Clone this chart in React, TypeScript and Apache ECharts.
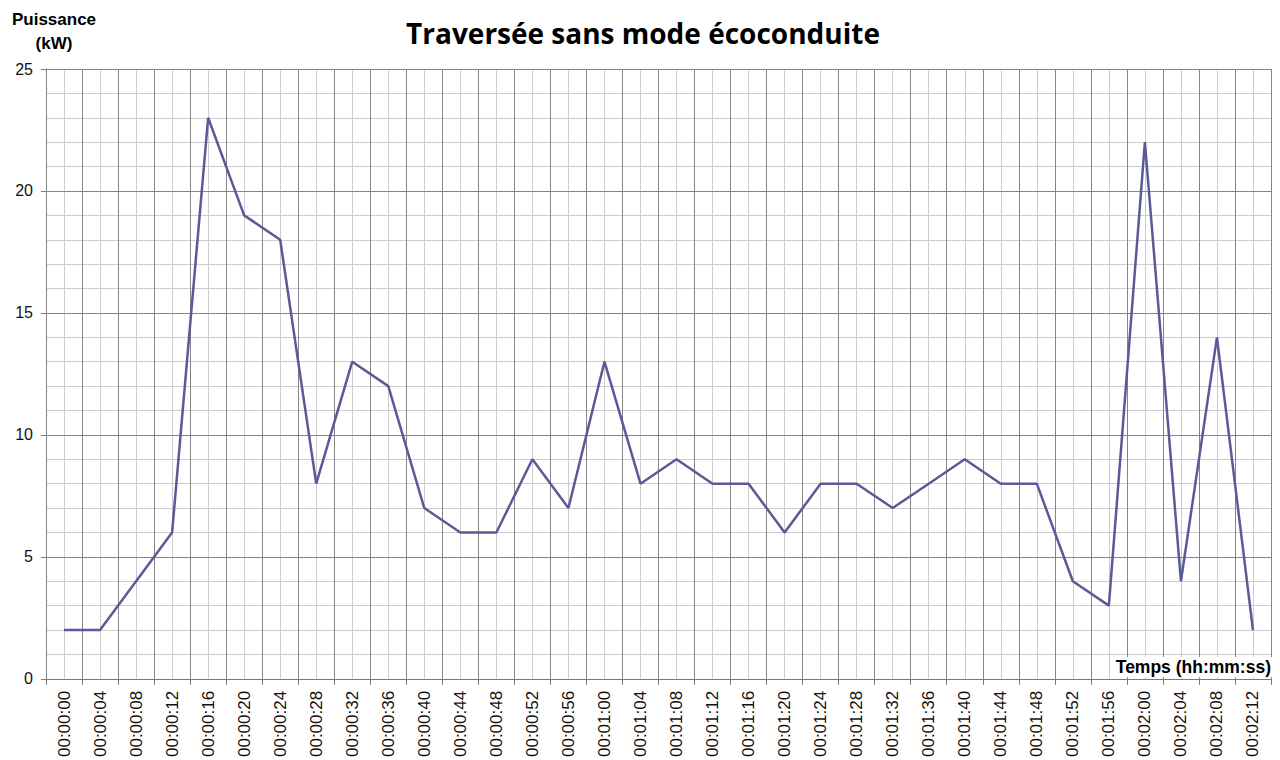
import React, { useEffect, useRef } from "react";
import * as echarts from "echarts";

const categories = [
  "00:00:00", "00:00:04", "00:00:08", "00:00:12", "00:00:16", "00:00:20",
  "00:00:24", "00:00:28", "00:00:32", "00:00:36", "00:00:40", "00:00:44",
  "00:00:48", "00:00:52", "00:00:56", "00:01:00", "00:01:04", "00:01:08",
  "00:01:12", "00:01:16", "00:01:20", "00:01:24", "00:01:28", "00:01:32",
  "00:01:36", "00:01:40", "00:01:44", "00:01:48", "00:01:52", "00:01:56",
  "00:02:00", "00:02:04", "00:02:08", "00:02:12",
];
const power = [
  2, 2, 4, 6, 23, 19, 18, 8, 13, 12, 7, 6, 6, 9, 7, 13, 8, 9, 8, 8, 6, 8, 8, 7,
  8, 9, 8, 8, 4, 3, 22, 4, 14, 2,
];
const yMin = 0;
const yMax = 25;
const yInterval = 5;

const titleText = "Traversée sans mode écoconduite";
const yName = ["Puissance", "(kW)"];
const xName = "Temps (hh:mm:ss)";

const MAJOR = "#858585";
const MINOR = "#cccccc";
const FONT = "'Liberation Sans', Arial, sans-serif";

export default function App() {
  const ref = useRef<HTMLDivElement>(null);
  useEffect(() => {
    document.body.style.margin = "0";
    if (!ref.current) return;
    const chart = echarts.init(ref.current, undefined, { renderer: "svg" });
    chart.setOption({
      animation: false,
      backgroundColor: "#ffffff",
      grid: { left: 46, right: 9, top: 69, bottom: 81, containLabel: false },
      xAxis: [
        {
          type: "category",
          data: categories,
          boundaryGap: true,
          z: 2,
          axisLine: { show: true, lineStyle: { color: "#7a7a7a", width: 1 } },
          axisTick: { show: true, length: 6, lineStyle: { color: "#7a7a7a" } },
          axisLabel: {
            interval: 0,
            rotate: 90,
            margin: 12,
            fontSize: 17,
            fontFamily: FONT,
            color: "#111111",
          },
          splitLine: { show: true, interval: 0, lineStyle: { color: MAJOR, width: 1 } },
        },
        {
          type: "value",
          min: 0,
          max: categories.length * 2,
          interval: 2,
          position: "bottom",
          z: 0,
          axisLine: { show: false },
          axisTick: { show: false },
          axisLabel: { show: false },
          splitLine: { show: false },
          minorTick: { show: false, splitNumber: 2 },
          minorSplitLine: { show: true, lineStyle: { color: MINOR, width: 1 } },
        },
      ],
      yAxis: {
        type: "value",
        min: yMin,
        max: yMax,
        interval: yInterval,
        z: 1,
        axisLine: { show: true, lineStyle: { color: "#7a7a7a", width: 1 } },
        axisTick: { show: true, length: 5, lineStyle: { color: "#7a7a7a" } },
        axisLabel: {
          margin: 13,
          fontSize: 16,
          fontFamily: FONT,
          color: "#111111",
        },
        splitLine: { show: true, lineStyle: { color: MAJOR, width: 1 } },
        minorTick: { show: false, splitNumber: 5 },
        minorSplitLine: { show: true, lineStyle: { color: MINOR, width: 1 } },
      },
      series: [
        {
          type: "line",
          xAxisIndex: 0,
          yAxisIndex: 0,
          data: power,
          z: 10,
          symbol: "none",
          lineStyle: { color: "#5a5a98", width: 2.5 },
        },
      ],
      graphic: [
        {
          type: "text",
          x: 643,
          y: 33,
          z: 20,
          style: {
            text: titleText,
            fontFamily: "'Open Sans', Lato, sans-serif",
            fontWeight: "bold",
            fontSize: 28,
            fill: "#000000",
            textAlign: "center",
            textVerticalAlign: "middle",
          },
        },
        {
          type: "text",
          x: 54,
          y: 19,
          z: 20,
          style: {
            text: yName[0],
            fontFamily: FONT,
            fontWeight: "bold",
            fontSize: 17,
            fill: "#000000",
            textAlign: "center",
            textVerticalAlign: "middle",
          },
        },
        {
          type: "text",
          x: 54,
          y: 43,
          z: 20,
          style: {
            text: yName[1],
            fontFamily: FONT,
            fontWeight: "bold",
            fontSize: 17,
            fill: "#000000",
            textAlign: "center",
            textVerticalAlign: "middle",
          },
        },
        {
          type: "text",
          x: 1272,
          y: 667,
          z: 20,
          style: {
            text: xName,
            fontFamily: FONT,
            fontWeight: "bold",
            fontSize: 17.5,
            fill: "#000000",
            textAlign: "right",
            textVerticalAlign: "middle",
            backgroundColor: "#ffffff",
            padding: [1, 1, 1, 2],
          },
        },
      ],
    });
    return () => chart.dispose();
  }, []);
  return <div ref={ref} style={{ width: 1280, height: 760 }} />;
}
